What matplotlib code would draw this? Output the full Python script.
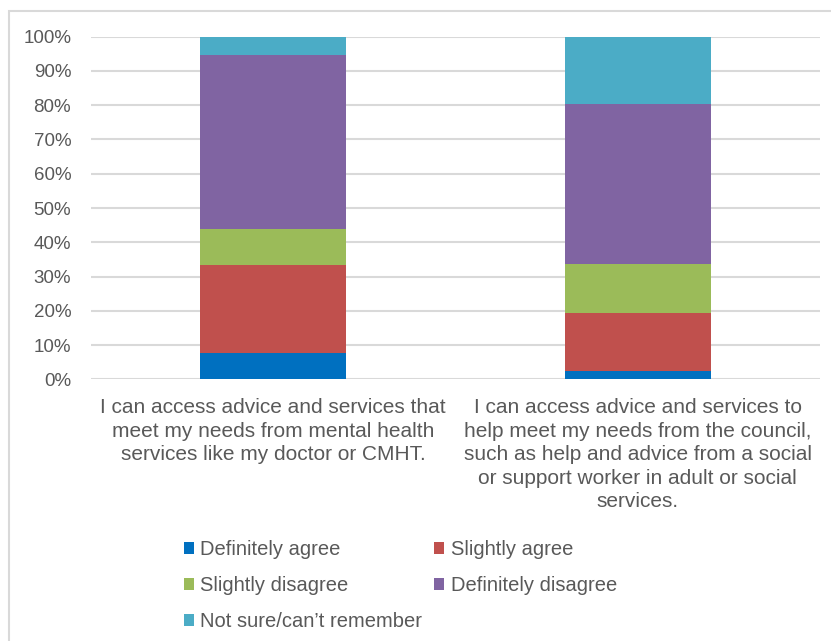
import matplotlib.pyplot as plt
from matplotlib.patches import Rectangle
import numpy as np

plt.rcParams["font.family"] = ["Liberation Sans", "DejaVu Sans"]

categories = [
    "I can access advice and services that\nmeet my needs from mental health\nservices like my doctor or CMHT.",
    "I can access advice and services to\nhelp meet my needs from the council,\nsuch as help and advice from a social\nor support worker in adult or social\nservices.",
]
responses = [
    "Definitely agree",
    "Slightly agree",
    "Slightly disagree",
    "Definitely disagree",
    "Not sure/can\u2019t remember",
]
# share of respondents (%) per response, one value per statement
definitely_agree = [7.8, 2.5]
slightly_agree = [25.5, 16.8]
slightly_disagree = [10.5, 14.4]
definitely_disagree = [50.9, 46.7]
not_sure = [5.3, 19.6]

colors = ["#0070C0", "#C0504D", "#9BBB59", "#8064A2", "#4BACC6"]
text_color = "#595959"

fig = plt.figure(figsize=(8.31, 6.41), dpi=100)
ax = fig.add_axes([0.1091, 0.4083, 0.8777, 0.5344])

# light frame around the chart area
fig.patches.append(Rectangle((8.5 / 831, -0.1), 1.2, 1 - 10.5 / 641 + 0.1,
                             transform=fig.transFigure, fill=False,
                             edgecolor="#d9d9d9", linewidth=1.5))

x = np.arange(len(categories))
series = [definitely_agree, slightly_agree, slightly_disagree,
          definitely_disagree, not_sure]
bottom = np.zeros(len(categories))
handles = []
for name, vals, col in zip(responses, series, colors):
    b = ax.bar(x, vals, 0.4, bottom=bottom, color=col, label=name, zorder=3)
    handles.append(b)
    bottom += np.array(vals)

ax.set_xlim(-0.5, 1.5)
ax.set_ylim(0, 100)
ax.set_yticks(np.arange(0, 101, 10))
ax.set_yticklabels([f"{v}%" for v in range(0, 101, 10)], fontsize=13.5)
ax.set_xticks(x)
ax.set_xticklabels(categories, linespacing=1.3, fontsize=15)
ax.tick_params(axis="both", length=0, labelcolor=text_color)
ax.tick_params(axis="y", pad=14)
ax.tick_params(axis="x", pad=13.5)
ax.grid(axis="y", color="#d9d9d9", linewidth=1.5, zorder=0)
for s in ax.spines.values():
    s.set_visible(False)

# row-major legend order with two columns
order = [0, 2, 4, 1, 3]
leg = fig.legend([handles[i] for i in order], [responses[i] for i in order],
                 ncol=2, loc="upper left", bbox_to_anchor=(0.212, 0.17),
                 frameon=False, fontsize=14.5, handlelength=0.5,
                 handleheight=0.5, handletextpad=0.3, columnspacing=0.6,
                 labelspacing=0.85, borderaxespad=0)
for t in leg.get_texts():
    t.set_color(text_color)

fig.savefig("out.png", dpi=100)
